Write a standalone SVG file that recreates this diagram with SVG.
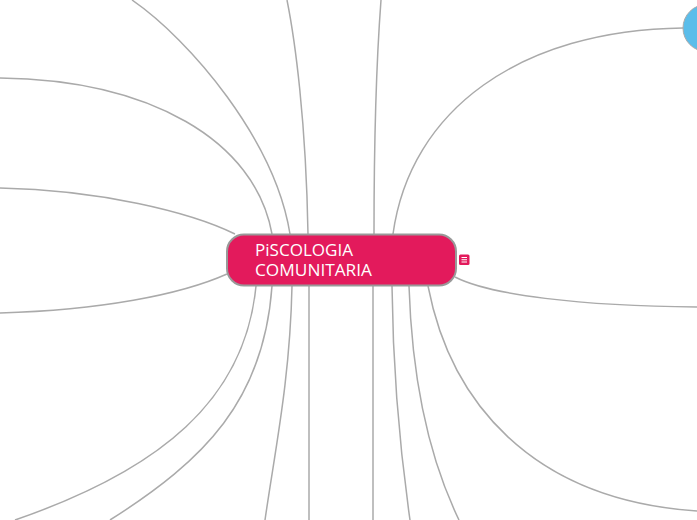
<svg xmlns="http://www.w3.org/2000/svg" width="697" height="520" viewBox="0 0 697 520">
  <style>
    .conn { fill: none; stroke: #aaaaaa; stroke-width: 1.5; }
    .label { font-family: "Open Sans", "Liberation Sans", sans-serif; font-size: 16px; font-weight: 500; fill: #ffffff; }
  </style>
  <rect x="0" y="0" width="697" height="520" fill="#ffffff"/>
  <g id="connectors">
    <path class="conn" d="M290,234 C275,140 190,40 132,0"/>
    <path class="conn" d="M272,234 C255,140 150,80 0,78"/>
    <path class="conn" d="M235,234 C190,212 100,190 0,188"/>
    <path class="conn" d="M308,234 C306,120 295,40 287,0"/>
    <path class="conn" d="M374,234 C374,120 378,40 381,0"/>
    <path class="conn" d="M393,234 C410,110 520,30 683,28"/>
    <path class="conn" d="M227,274 C180,295 100,310 0,313"/>
    <path class="conn" d="M256,286 C245,400 160,470 15,520"/>
    <path class="conn" d="M272,286 C264,400 205,460 110,520"/>
    <path class="conn" d="M292,286 C290,380 275,450 265,520"/>
    <path class="conn" d="M309,286 L309,520"/>
    <path class="conn" d="M373,286 L373,520"/>
    <path class="conn" d="M392,286 C393,380 400,450 410,520"/>
    <path class="conn" d="M409,286 C412,380 430,460 459,520"/>
    <path class="conn" d="M428,286 C450,400 530,500 697,511"/>
    <path class="conn" d="M455,277 C490,295 580,306 697,307"/>
  </g>
  <g id="node-topic">
    <circle cx="706.5" cy="28" r="23.5" fill="#5BBDEA" stroke="#aaaaaa" stroke-width="1"/>
  </g>
  <g id="node-central">
    <rect x="227" y="234.5" width="229" height="51" rx="17" ry="17" fill="#E31A5C" stroke="#999999" stroke-width="2"/>
    <text class="label" x="255" y="256" textLength="98" lengthAdjust="spacingAndGlyphs">PiSCOLOGIA</text>
    <text class="label" x="255" y="276" textLength="117" lengthAdjust="spacingAndGlyphs">COMUNITARIA</text>
  </g>
  <g id="note-icon">
    <rect x="459" y="254.5" width="10.5" height="10.5" rx="1.5" fill="#E31A5C"/>
    <path d="M461.5,257.5 H467 M461.5,259.75 H467 M461.5,262 H467" stroke="#ffffff" stroke-width="1"/>
  </g>
</svg>
